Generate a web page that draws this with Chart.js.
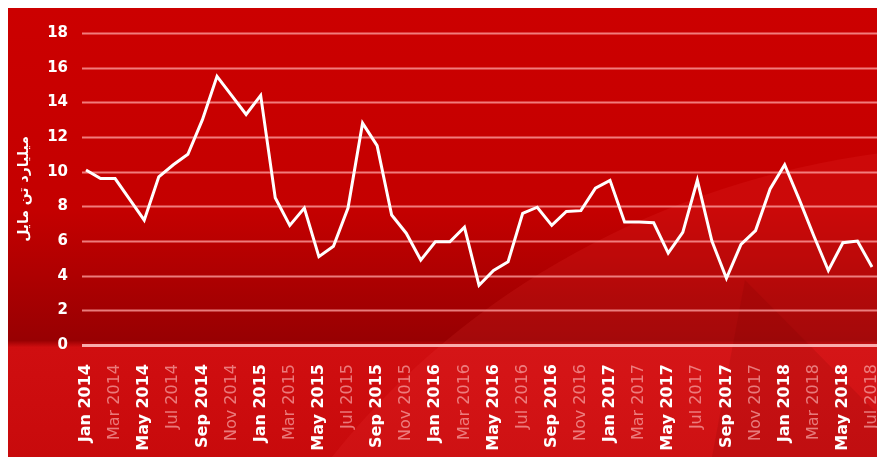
<!DOCTYPE html>
<html>
<head>
<meta charset="utf-8">
<script src="https://cdn.jsdelivr.net/npm/chart.js@4.4.0/dist/chart.umd.min.js"></script>
<style>
    html, body { margin: 0; padding: 0; background: #fff; }
    #wrap { width: 877px; height: 457px; position: relative; }
</style>
</head>
<body>
<div id="wrap"><canvas id="chart-tonnage"></canvas></div>
<script>
// monthly categories, Jan 2014 .. Jul 2018
const months = [
    'Jan 2014', 'Feb 2014', 'Mar 2014', 'Apr 2014', 'May 2014', 'Jun 2014', 'Jul 2014', 'Aug 2014', 'Sep 2014', 'Oct 2014', 'Nov 2014', 'Dec 2014',
    'Jan 2015', 'Feb 2015', 'Mar 2015', 'Apr 2015', 'May 2015', 'Jun 2015', 'Jul 2015', 'Aug 2015', 'Sep 2015', 'Oct 2015', 'Nov 2015', 'Dec 2015',
    'Jan 2016', 'Feb 2016', 'Mar 2016', 'Apr 2016', 'May 2016', 'Jun 2016', 'Jul 2016', 'Aug 2016', 'Sep 2016', 'Oct 2016', 'Nov 2016', 'Dec 2016',
    'Jan 2017', 'Feb 2017', 'Mar 2017', 'Apr 2017', 'May 2017', 'Jun 2017', 'Jul 2017', 'Aug 2017', 'Sep 2017', 'Oct 2017', 'Nov 2017', 'Dec 2017',
    'Jan 2018', 'Feb 2018', 'Mar 2018', 'Apr 2018', 'May 2018', 'Jun 2018', 'Jul 2018'
];

// billion ton-miles
const tonMiles = [
    10.1, 9.6, 9.6, 8.4, 7.2, 9.7, 10.4, 11.0, 13.0, 15.5, 14.4, 13.3,
    14.4, 8.5, 6.9, 7.9, 5.1, 5.7, 7.9, 12.8, 11.5, 7.5, 6.45, 4.9,
    5.95, 5.95, 6.8, 3.45, 4.3, 4.8, 7.6, 7.95, 6.9, 7.7, 7.75, 9.05,
    9.5, 7.1, 7.1, 7.05, 5.3, 6.5, 9.5, 6.0, 3.85, 5.8, 6.6, 9.0,
    10.4, 8.4, 6.3, 4.3, 5.9, 6.0, 4.5
];

const yTicks = { min: 0, max: 18, step: 2 };
const yTitle = 'میلیارد تن مایل';

// red poster background + decorative shapes
const backdrop = {
    id: 'backdrop',
    beforeDraw(chart) {
        const { ctx, width, height, chartArea } = chart;
        ctx.save();
        ctx.fillStyle = '#fff';
        ctx.fillRect(0, 0, width, height);

        const g = ctx.createLinearGradient(0, 8, 0, height);
        const axisStop = (chartArea.bottom - 8) / (height - 8);
        g.addColorStop(0, 'rgb(204,0,0)');
        g.addColorStop(axisStop * 0.6, 'rgb(196,0,0)');
        g.addColorStop(axisStop - 0.01, 'rgb(152,0,2)');
        g.addColorStop(axisStop + 0.005, 'rgb(208,14,16)');
        g.addColorStop(1, 'rgb(200,10,12)');
        ctx.fillStyle = g;
        ctx.fillRect(8, 8, width - 8, height - 8);

        ctx.beginPath();
        ctx.rect(8, 8, width - 8, height - 8);
        ctx.clip();

        // big light arc, lower right
        ctx.beginPath();
        ctx.ellipse(1000, 900, 825, 755, 0, 0, Math.PI * 2);
        ctx.fillStyle = 'rgba(255,70,70,0.12)';
        ctx.fill();

        // darker wedge
        ctx.beginPath();
        ctx.moveTo(745, 280);
        ctx.lineTo(712, height);
        ctx.lineTo(920, height);
        ctx.closePath();
        ctx.fillStyle = 'rgba(110,0,0,0.14)';
        ctx.fill();
        ctx.restore();
    }
};

// horizontal grid lines across the full width
const gridLines = {
    id: 'gridLines',
    beforeDatasetsDraw(chart) {
        const { ctx, width, chartArea, scales: { y } } = chart;
        ctx.save();
        y.ticks.forEach(t => {
            const py = Math.round(y.getPixelForValue(t.value)) + 0.5;
            ctx.beginPath();
            ctx.moveTo(chartArea.left - 4, py);
            ctx.lineTo(width, py);
            ctx.lineWidth = t.value === 0 ? 3 : 2;
            ctx.strokeStyle = t.value === 0 ? 'rgba(255,190,190,0.9)' : 'rgba(255,165,165,0.75)';
            ctx.stroke();
        });
        ctx.restore();
    }
};

const ctx = document.getElementById('chart-tonnage');
new Chart(ctx, {
    type: 'line',
    data: {
        labels: months,
        datasets: [{
            data: tonMiles,
            borderColor: '#fff',
            borderWidth: 3,
            pointRadius: 0,
            tension: 0,
            fill: false
        }]
    },
    options: {
        responsive: true, maintainAspectRatio: false,
        animation: false,
        layout: { padding: { left: 8, top: 33, right: 5, bottom: 0 } },
        plugins: { legend: { display: false }, tooltip: { enabled: false } },
        scales: {
            x: {
                grid: { display: false },
                border: { display: false },
                afterFit: s => { s.height = 112; s.paddingLeft = 0; s.paddingRight = 0; },
                ticks: {
                    autoSkip: false, maxRotation: 90, minRotation: 90, padding: 11,
                    callback: (v, i) => i % 2 === 0 ? months[i] : '',
                    color: c => c.index % 4 === 0 ? '#fff' : 'rgba(255,195,195,0.6)',
                    font: c => ({ family: 'DejaVu Sans', size: 16, weight: c.index % 4 === 0 ? 'bold' : 'normal' })
                }
            },
            y: {
                min: yTicks.min, max: yTicks.max,
                grid: { display: false },
                border: { display: false },
                afterFit: s => { s.width = 78; },
                ticks: {
                    stepSize: yTicks.step, padding: 10,
                    color: '#fff',
                    font: { family: 'DejaVu Sans', size: 15, weight: 'bold' }
                },
                title: {
                    display: true, text: yTitle, color: '#fff',
                    padding: { top: 8, bottom: 0 },
                    font: { family: 'DejaVu Sans', size: 14, weight: 'bold' }
                }
            }
        }
    },
    plugins: [backdrop, gridLines]
});
</script>
</body>
</html>
